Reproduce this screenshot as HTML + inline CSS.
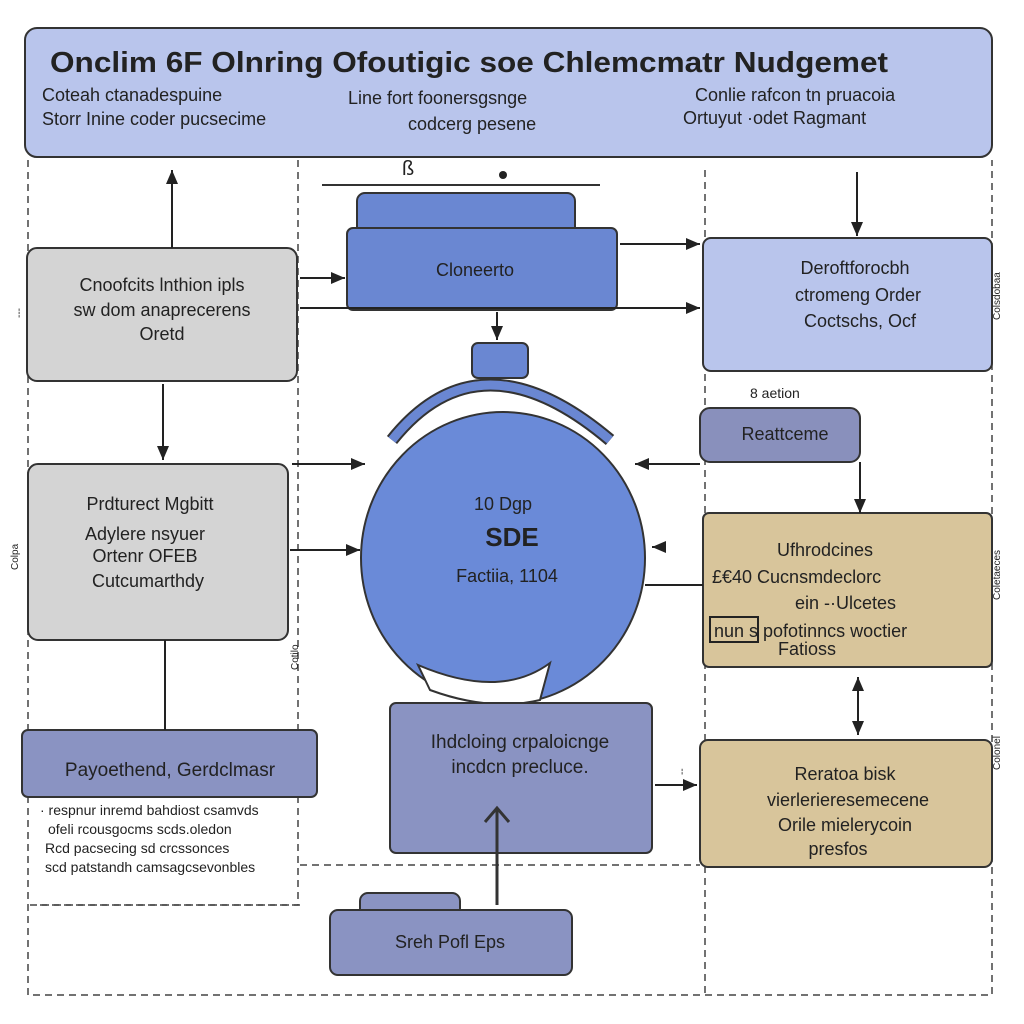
<!DOCTYPE html>
<html><head><meta charset="utf-8"><style>
html,body{margin:0;padding:0;background:#fff;}
svg{display:block;}
text{font-family:"Liberation Sans",sans-serif;fill:#222;}
</style></head><body>
<svg width="1024" height="1024" viewBox="0 0 1024 1024">
<defs>
<marker id="a" markerWidth="8" markerHeight="8" refX="7" refY="4" orient="auto"><path d="M0,1 L7,4 L0,7 z" fill="#222"/></marker>
</defs>
<rect width="1024" height="1024" fill="#fff"/>
<g stroke="#444" stroke-width="1.5" stroke-dasharray="7,5" fill="none">
<path d="M28 160 V995 H992 V160"/>
<path d="M298 160 V905 H40"/>
<path d="M705 170 V995"/>
<path d="M300 865 H700"/>
<path d="M30 905 H300"/>
</g>
<rect x="25" y="28" width="967" height="129" rx="12" fill="#b9c5ec" stroke="#333" stroke-width="2"/>
<text x="50" y="72" font-size="29" font-weight="bold" fill="#1d2340" textLength="838" lengthAdjust="spacingAndGlyphs">Onclim 6F Olnring Ofoutigic  soe  Chlemcmatr Nudgemet</text>
<text x="42" y="101" font-size="18">Coteah ctanadespuine</text>
<text x="42" y="125" font-size="18">Storr Inine coder pucsecime</text>
<text x="348" y="104" font-size="18">Line fort foonersgsnge</text>
<text x="408" y="130" font-size="18">codcerg  pesene</text>
<text x="695" y="101" font-size="18">Conlie rafcon tn pruacoia</text>
<text x="683" y="124" font-size="18">Ortuyut   ·odet Ragmant</text>
<line x1="322" y1="185" x2="600" y2="185" stroke="#333" stroke-width="2"/>
<text x="402" y="175" font-size="20">ß</text>
<circle cx="503" cy="175" r="4" fill="#222"/>
<rect x="27" y="248" width="270" height="133" rx="10" fill="#d4d4d4" stroke="#333" stroke-width="2"/>
<text x="162" y="291" font-size="18" text-anchor="middle">Cnoofcits lnthion ipls</text>
<text x="162" y="316" font-size="18" text-anchor="middle">sw dom anaprecerens</text>
<text x="162" y="340" font-size="18" text-anchor="middle">Oretd</text>
<rect x="357" y="193" width="218" height="45" rx="8" fill="#6a87d2" stroke="#333" stroke-width="2"/>
<rect x="347" y="228" width="270" height="82" rx="6" fill="#6a87d2" stroke="#333" stroke-width="2"/>
<text x="475" y="276" font-size="18" text-anchor="middle">Cloneerto</text>
<rect x="703" y="238" width="289" height="133" rx="8" fill="#b9c5ec" stroke="#333" stroke-width="2"/>
<text x="855" y="274" font-size="18" text-anchor="middle">Deroftforocbh</text>
<text x="858" y="301" font-size="18" text-anchor="middle">ctromeng Order</text>
<text x="860" y="327" font-size="18" text-anchor="middle">Coctschs,  Ocf</text>
<text x="750" y="398" font-size="14">8 aetion</text>
<rect x="700" y="408" width="160" height="54" rx="10" fill="#8990bc" stroke="#333" stroke-width="2"/>
<text x="785" y="440" font-size="18" text-anchor="middle">Reattceme</text>
<rect x="28" y="464" width="260" height="176" rx="10" fill="#d4d4d4" stroke="#333" stroke-width="2"/>
<text x="150" y="510" font-size="18" text-anchor="middle">Prdturect Mgbitt</text>
<text x="145" y="540" font-size="18" text-anchor="middle">Adylere nsyuer</text>
<text x="145" y="562" font-size="18" text-anchor="middle">Ortenr OFEB</text>
<text x="148" y="587" font-size="18" text-anchor="middle">Cutcumarthdy</text>
<path d="M392 440 Q480 330 610 440" fill="none" stroke="#333" stroke-width="13"/>
<path d="M392 440 Q480 330 610 440" fill="none" stroke="#6a87d2" stroke-width="9"/>
<rect x="472" y="343" width="56" height="35" rx="6" fill="#6a87d2" stroke="#333" stroke-width="2"/>
<ellipse cx="503" cy="558" rx="142" ry="146" fill="#6a8ad8" stroke="#333" stroke-width="2"/>
<path d="M418 665 Q500 700 550 663 L540 700 Q490 712 430 690 z" fill="#fff" stroke="#333" stroke-width="2"/>
<text x="503" y="510" font-size="18" text-anchor="middle">10 Dgp</text>
<text x="512" y="546" font-size="26" font-weight="bold" text-anchor="middle" fill="#1d2340">SDE</text>
<text x="507" y="582" font-size="18" text-anchor="middle">Factiia, 1104</text>
<rect x="703" y="513" width="289" height="154" rx="6" fill="#d8c59b" stroke="#333" stroke-width="2"/>
<text x="825" y="556" font-size="18" text-anchor="middle">Ufhrodcines</text>
<text x="712" y="583" font-size="18">£€40  Cucnsmdeclorc</text>
<text x="795" y="609" font-size="18">ein -·Ulcetes</text>
<rect x="710" y="617" width="48" height="25" fill="none" stroke="#222" stroke-width="2"/>
<text x="714" y="637" font-size="18">nun s  pofotinncs woctier</text>
<text x="778" y="655" font-size="18">Fatioss</text>
<rect x="22" y="730" width="295" height="67" rx="6" fill="#8a93c2" stroke="#333" stroke-width="2"/>
<text x="170" y="776" font-size="19" text-anchor="middle">Payoethend,  Gerdclmasr</text>
<text x="40" y="815" font-size="14">· respnur inremd bahdiost  csamvds</text>
<text x="48" y="834" font-size="14">ofeli rcousgocms scds.oledon</text>
<text x="45" y="853" font-size="14">Rcd  pacsecing sd crcssonces</text>
<text x="45" y="872" font-size="14">scd patstandh camsagcsevonbles</text>
<rect x="390" y="703" width="262" height="150" rx="6" fill="#8a93c2" stroke="#333" stroke-width="2"/>
<text x="520" y="748" font-size="19" text-anchor="middle">Ihdcloing crpaloicnge</text>
<text x="520" y="773" font-size="19" text-anchor="middle">incdcn precluce.</text>
<path d="M497 905 V810 M485 822 L497 808 L509 822" fill="none" stroke="#333" stroke-width="3"/>
<rect x="700" y="740" width="292" height="127" rx="8" fill="#d8c59b" stroke="#333" stroke-width="2"/>
<text x="845" y="780" font-size="18" text-anchor="middle">Reratoa bisk</text>
<text x="848" y="806" font-size="18" text-anchor="middle">vierlerieresemecene</text>
<text x="845" y="831" font-size="18" text-anchor="middle">Orile mielerycoin</text>
<text x="838" y="855" font-size="18" text-anchor="middle">presfos</text>
<rect x="360" y="893" width="100" height="25" rx="8" fill="#8a93c2" stroke="#333" stroke-width="2"/>
<rect x="330" y="910" width="242" height="65" rx="8" fill="#8a93c2" stroke="#333" stroke-width="2"/>
<text x="450" y="948" font-size="18" text-anchor="middle">Sreh Pofl Eps</text>
<g stroke="#222" stroke-width="2" fill="none" marker-end="url(#a)">
<line x1="172" y1="248" x2="172" y2="170"/>
<line x1="300" y1="278" x2="345" y2="278"/>
<line x1="620" y1="244" x2="700" y2="244"/>
<line x1="300" y1="308" x2="700" y2="308"/>
<line x1="497" y1="312" x2="497" y2="340"/>
<line x1="857" y1="172" x2="857" y2="236"/>
<line x1="163" y1="384" x2="163" y2="460"/>
<line x1="292" y1="464" x2="365" y2="464"/>
<line x1="700" y1="464" x2="635" y2="464"/>
<line x1="290" y1="550" x2="360" y2="550"/>
<line x1="665" y1="547" x2="652" y2="547"/>
<line x1="860" y1="462" x2="860" y2="513"/>
<line x1="858" y1="690" x2="858" y2="735"/>
<line x1="858" y1="695" x2="858" y2="677"/>
<line x1="655" y1="785" x2="697" y2="785"/>
</g>
<g stroke="#222" stroke-width="2">
<line x1="165" y1="640" x2="165" y2="730"/>
<line x1="645" y1="585" x2="703" y2="585"/>
</g>
<g font-size="10" fill="#333">
<text x="22" y="318" transform="rotate(-90 22 318)">---</text>
<text x="18" y="570" transform="rotate(-90 18 570)">Colpa</text>
<text x="1000" y="320" transform="rotate(-90 1000 320)">Colsdobaa</text>
<text x="1000" y="600" transform="rotate(-90 1000 600)">Coletaeces</text>
<text x="1000" y="770" transform="rotate(-90 1000 770)">Colonel</text>
<text x="298" y="670" transform="rotate(-90 298 670)">Cotilo</text>
<text x="685" y="775" transform="rotate(-90 685 775)">--</text>
</g>
</svg>
</body></html>
